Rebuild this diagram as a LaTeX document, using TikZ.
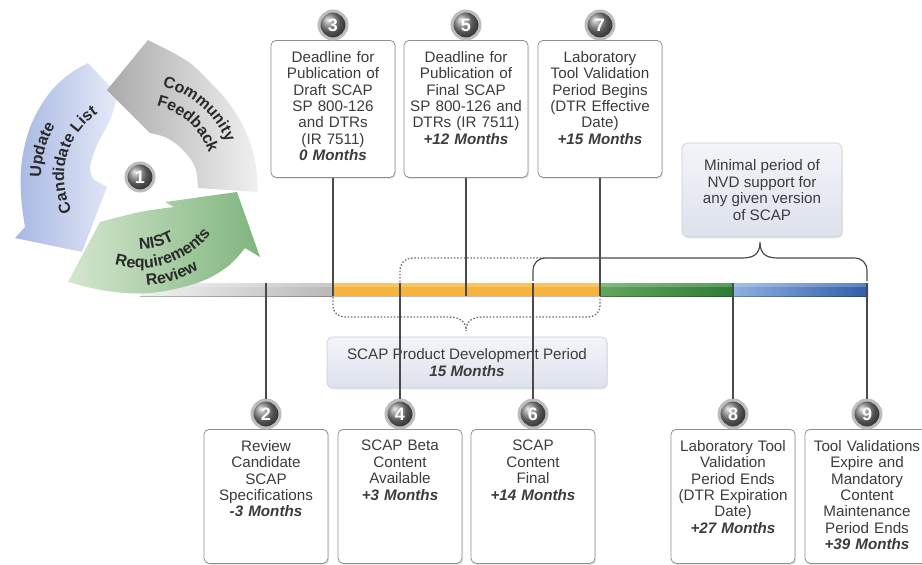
\documentclass[tikz,border=0pt]{standalone}
\usepackage{fontspec}
\setmainfont{Liberation Sans}
\usetikzlibrary{shadows,decorations.text}

\definecolor{ink}{HTML}{2A2A2A}
\definecolor{boxtext}{HTML}{3C3C3C}
\definecolor{rule}{HTML}{4A4A4A}
\definecolor{frame}{HTML}{8E8E8E}
\definecolor{panelTop}{HTML}{F4F5FA}
\definecolor{panelBot}{HTML}{DDE1EC}
\definecolor{panelEdge}{HTML}{C9CDD8}
\definecolor{barOrange}{HTML}{F6B43E}
\definecolor{barGreyL}{HTML}{F2F2F2}
\definecolor{barGreyR}{HTML}{B8B8B8}
\definecolor{barGreenL}{HTML}{62A65C}
\definecolor{barGreenR}{HTML}{2E7B36}
\definecolor{barBlueL}{HTML}{8EAEE0}
\definecolor{barBlueR}{HTML}{2F5EA8}
\definecolor{arrGreyL}{HTML}{AAAAAA}
\definecolor{arrGreyR}{HTML}{F0F0F0}
\definecolor{arrBlueL}{HTML}{A7B7E3}
\definecolor{arrBlueR}{HTML}{E6EBF7}
\definecolor{arrGreenL}{HTML}{D4E6CF}
\definecolor{arrGreenR}{HTML}{7FB57D}
\definecolor{ballGrey}{HTML}{7A7A7A}
\definecolor{ringGrey}{HTML}{BDBDBD}

\newcommand{\boxfont}{\fontsize{15.2}{16.4}\selectfont}
\newcommand{\cycfont}{\bfseries\fontsize{16}{16}\selectfont}
\newcommand{\months}[1]{\textbf{\textit{#1}}}

\begin{document}
\begin{tikzpicture}[x=1pt, y=-1pt,
  card/.style={draw=frame, line width=0.8pt, fill=white, rounded corners=5pt,
    minimum width=124pt, inner sep=0pt, anchor=north,
    drop shadow={opacity=0.18, shadow xshift=1.2pt, shadow yshift=-1.5pt}},
  toptall/.style={card, minimum height=137pt},
  lowtall/.style={card, minimum height=134pt},
  cardtext/.style={anchor=north, align=center, text width=122pt, inner sep=0pt,
    font=\boxfont, text=boxtext},
  panel/.style={draw=panelEdge, line width=0.6pt, rounded corners=6pt,
    top color=panelTop, bottom color=panelBot, inner sep=0pt, align=center,
    font=\boxfont, text=boxtext,
    drop shadow={opacity=0.15, shadow xshift=1pt, shadow yshift=-1.5pt}},
  badge/.style={circle, inner sep=0pt, minimum size=28pt, draw=ringGrey,
    line width=3pt, ball color=ballGrey, text=white,
    font=\bfseries\fontsize{18}{18}\selectfont},
  stem/.style={draw=rule, line width=1.1pt},
  barseg/.style={inner sep=0pt, minimum height=13pt, anchor=west},
  devbrace/.style={draw=rule!80, line width=1.3pt, dash pattern=on 1.5pt off 1.8pt},
  nvdbrace/.style={draw=rule, line width=1.2pt},
  cyctext/.style={decorate, decoration={text along path, text align=center, text={|\cycfont\color{ink}|#1}}}
]
\useasboundingbox (0,0) rectangle (922,565);
\clip (0,0) rectangle (922,565);

% timeline bar
\node[barseg, minimum width=193pt, left color=barGreyL, right color=barGreyR] (barA) at (140,289.5) {};
\node[barseg, minimum width=267pt, fill=barOrange] (barB) at (333,289.5) {};
\node[barseg, minimum width=134pt, left color=barGreenL, right color=barGreenR] (barC) at (600,289.5) {};
\node[barseg, minimum width=134pt, left color=barBlueL, right color=barBlueR] (barD) at (734,289.5) {};
\node[inner sep=0pt, minimum width=728pt, minimum height=13pt, anchor=west] (bar) at (140,289.5) {};
\fill[white, opacity=0.22] (bar.north west) rectangle ([yshift=-4pt]bar.north east);
\draw[black, opacity=0.25, line width=0.6pt] (bar.south west) -- (bar.south east);

% review cycle: blue, grey, green arrows
\path[left color=arrBlueL, right color=arrBlueR]
  (88,63) -- (118,95)
  -- plot[smooth, tension=0.6] coordinates {(118,95) (110,120) (97,145) (90,168) (94,180)}
  -- (107,187) -- (82,252) -- (15,238) -- (25,227)
  -- plot[smooth, tension=0.6] coordinates {(25,227) (21,195) (22,160) (31,125) (48,95) (68,75) (88,63)}
  -- cycle;
\path[left color=arrGreyL, right color=arrGreyR]
  (198,188) -- (258,192)
  -- plot[smooth, tension=0.6] coordinates {(258,192) (255,160) (244,128) (228,102) (210,82) (190,63) (168,50)}
  -- (148,40) -- (107,90) -- (150,133)
  -- plot[smooth, tension=0.6] coordinates {(150,133) (167,138) (183,150) (195,167) (198,188)}
  -- cycle;
\path[left color=arrGreenL, right color=arrGreenR]
  (100,222) -- (68,282)
  -- plot[smooth, tension=0.6] coordinates {(68,282) (107,291) (150,293) (197,283) (227,267) (245,248)}
  -- (260,257) -- (237,192) -- (165,202) -- (174,207)
  -- plot[smooth, tension=0.6] coordinates {(174,207) (140,212) (100,222)}
  -- cycle;

% curved captions on the cycle
\path[cyctext=Community] (140,177) ++(-109:93) arc[start angle=-109, end angle=11, radius=93];
\path[cyctext=Feedback] (140,177) ++(-108:73) arc[start angle=-108, end angle=12, radius=73];
\path[cyctext=Update] (140,177) ++(-214.5:99) arc[start angle=-214.5, end angle=-114.5, radius=99];
\path[cyctext=Candidate List] (140,177) ++(-225:76) arc[start angle=-225, end angle=-105, radius=76];
\path[cyctext=NIST] (140,177) ++(-234:72) arc[start angle=-234, end angle=-334, radius=72];
\path[cyctext=Requirements] (140,177) ++(-227.5:91) arc[start angle=-227.5, end angle=-347.5, radius=91];
\path[cyctext=Review] (140,177) ++(-248:109) arc[start angle=-248, end angle=-328, radius=109];

% braces
\draw[devbrace] (400,282) -- (400,271) .. controls (400,263) and (405,258) .. (413,258) -- (546,258);
\draw[nvdbrace] (533,281) -- (533,271) .. controls (533,263) and (538,258) .. (546,258)
  -- (742,258) .. controls (754,258) and (760,254) .. (760,242)
  .. controls (760,254) and (766,258) .. (778,258)
  -- (854,258) .. controls (862,258) and (867,263) .. (867,271) -- (867,281);
\draw[devbrace] (333,297) -- (333,305) .. controls (333,313) and (338,317) .. (346,317)
  -- (448,317) .. controls (460,317) and (466,321) .. (466,331)
  .. controls (466,321) and (472,317) .. (484,317)
  -- (587,317) .. controls (595,317) and (600,313) .. (600,305) -- (600,297);

% period panels
\node[panel, minimum width=280pt, minimum height=51pt] (dev) at (467,362.5)
  {SCAP Product Development Period\\\months{15 Months}};
\node[panel, minimum width=160pt, minimum height=94pt] (nvd) at (762,190)
  {Minimal period of\\NVD support for\\any given version\\of SCAP};

% milestone cards
\node[toptall] (b3) at (333,40) {};
\node[toptall] (b5) at (466,40) {};
\node[toptall] (b7) at (600,40) {};
\node[lowtall] (b2) at (266,429) {};
\node[lowtall] (b4) at (400,429) {};
\node[lowtall] (b6) at (533,429) {};
\node[lowtall] (b8) at (733,429) {};
\node[lowtall] (b9) at (867,429) {};

% badges
\node[badge] (n1) at (140,177) {1};
\node[badge] (n3) at (333,25) {3};
\node[badge] (n5) at (466,25) {5};
\node[badge] (n7) at (600,25) {7};
\node[badge] (n2) at (266,414) {2};
\node[badge] (n4) at (400,414) {4};
\node[badge] (n6) at (533,414) {6};
\node[badge] (n8) at (733,414) {8};
\node[badge] (n9) at (867,414) {9};

% stems from cards to the bar
\draw[stem] (b3.south) -- (b3.south |- bar.south);
\draw[stem] (b5.south) -- (b5.south |- bar.south);
\draw[stem] (b7.south) -- (b7.south |- bar.south);
\draw[stem] (n2 |- bar.north) -- (n2.north);
\draw[stem] (n4 |- bar.north) -- (n4.north);
\draw[stem] (n6 |- bar.north) -- (n6.north);
\draw[stem] (n8 |- bar.north) -- (n8.north);
\draw[stem] (n9 |- bar.north) -- (n9.north);

% card texts
\node[cardtext] (t3) at (333,51) {Deadline for\\Publication of\\Draft SCAP\\SP 800-126\\and DTRs\\(IR 7511)\\\months{0 Months}};
\node[cardtext] (t5) at (466,51) {Deadline for\\Publication of\\Final SCAP\\SP 800-126 and\\DTRs (IR 7511)\\\months{+12 Months}};
\node[cardtext] (t7) at (600,51) {Laboratory\\Tool Validation\\Period Begins\\(DTR Effective\\Date)\\\months{+15 Months}};
\node[cardtext] (t2) at (266,440) {Review\\Candidate\\SCAP\\Specifications\\\months{-3 Months}};
\node[cardtext] (t4) at (400,440) {SCAP Beta\\Content\\Available\\\months{+3 Months}};
\node[cardtext] (t6) at (533,440) {SCAP\\Content\\Final\\\months{+14 Months}};
\node[cardtext] (t8) at (733,440) {Laboratory Tool\\Validation\\Period Ends\\(DTR Expiration\\Date)\\\months{+27 Months}};
\node[cardtext] (t9) at (867,440) {Tool Validations\\Expire and\\Mandatory\\Content\\Maintenance\\Period Ends\\\months{+39 Months}};
\end{tikzpicture}
\end{document}
